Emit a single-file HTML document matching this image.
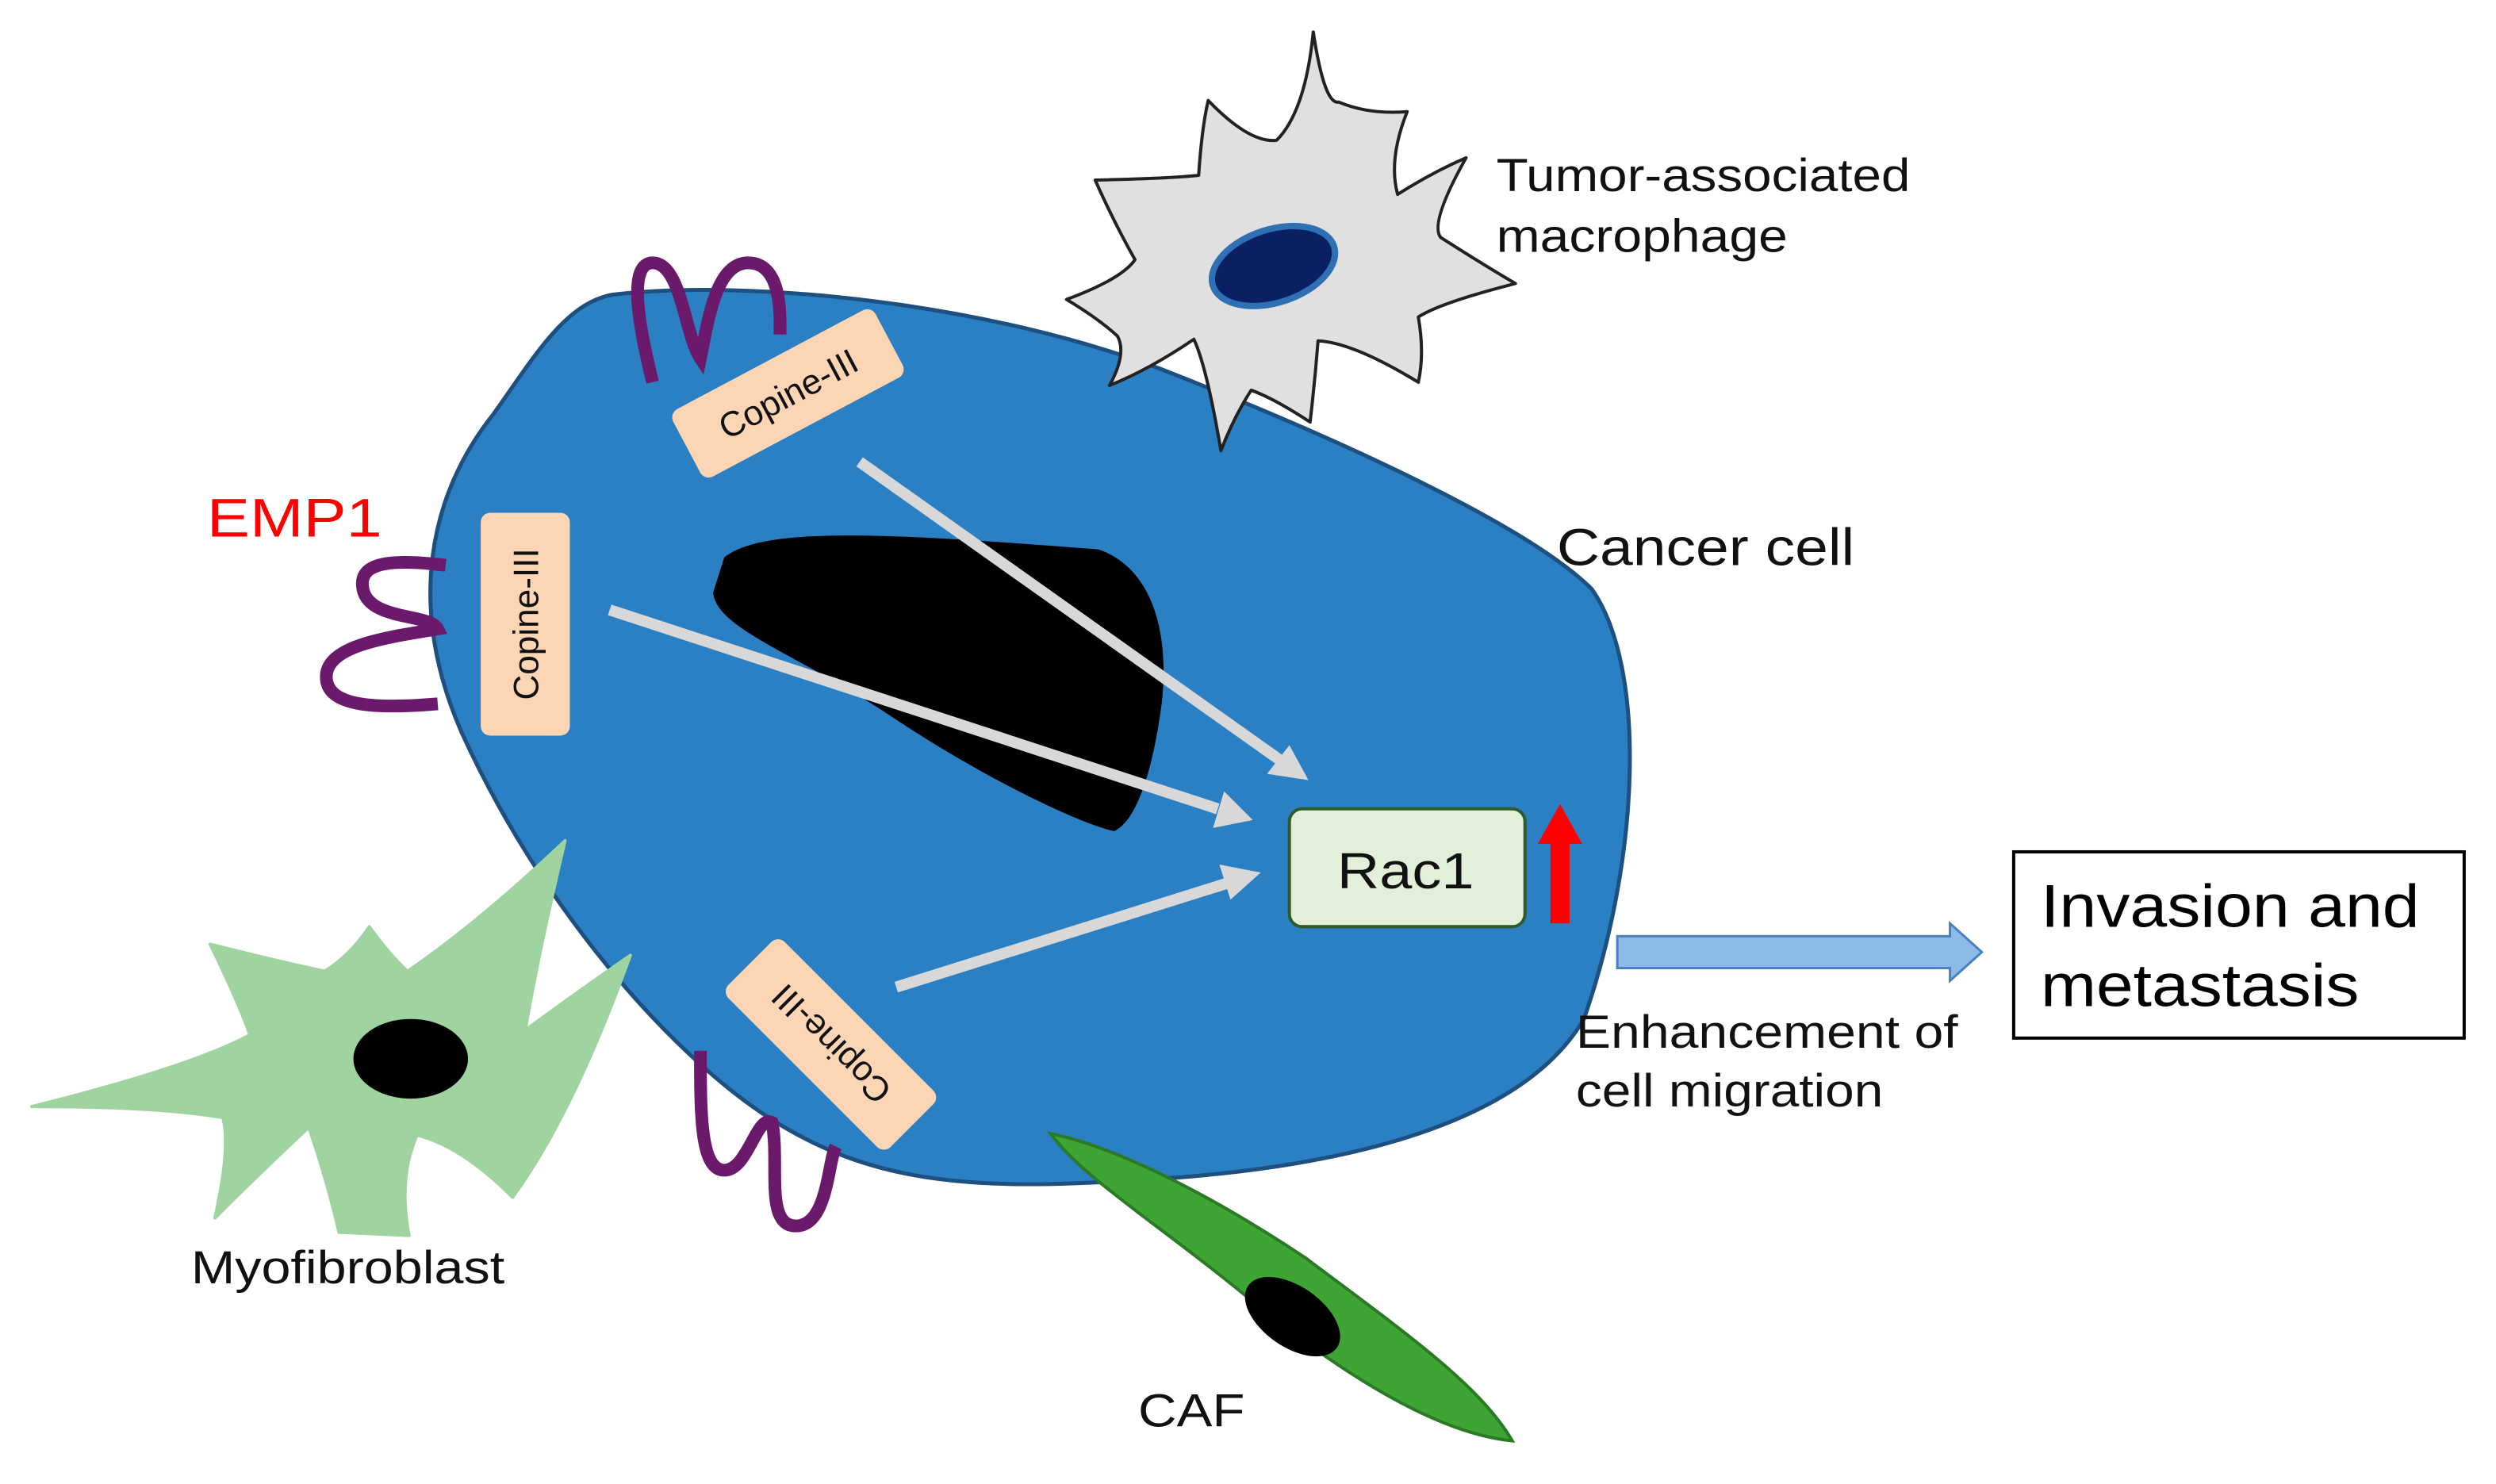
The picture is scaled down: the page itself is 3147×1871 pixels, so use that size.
<!DOCTYPE html>
<html><head><meta charset="utf-8"><style>
html,body{margin:0;padding:0;background:#fff;}
svg{display:block;}
text{font-family:"Liberation Sans",sans-serif;}
</style></head><body>
<svg width="3147" height="1871" viewBox="0 0 1568 932" xmlns="http://www.w3.org/2000/svg">
<rect width="1568" height="932" fill="#fff"/>
<!-- cancer cell -->
<path d="M385,185 C470,175 620,190 730,232 C840,275 960,330 1000,370 C1035,420 1030,540 995,640 C960,700 860,735 700,742 C600,748 540,740 480,700 C420,660 340,570 290,460 C255,380 270,310 310,260 C335,225 355,190 385,185 Z" fill="#2a80c2" stroke="#1d4f80" stroke-width="2.5"/>
<!-- macrophage -->
<path d="M825,20 Q832,66 841,64 Q860,72 884,70 Q872,100 878,122 Q900,108 921,99 Q898,140 905,149 Q930,165 952,178 Q905,190 891,199 Q895,222 891,240 Q850,215 828,214 Q826,240 823,265 Q800,250 786,245 Q775,262 767,283 Q758,230 750,213 Q722,232 697,242 Q708,222 702,211 Q690,200 670,188 Q705,175 713,163 Q700,140 688,113 Q735,112 753,110 Q755,80 759,63 Q785,90 802,88 Q820,70 825,20 Z" fill="#e0e0e0" stroke="#222" stroke-width="2" stroke-linejoin="round"/>
<ellipse cx="800" cy="167" rx="40" ry="23" transform="rotate(-18 800 167)" fill="#0b1f63" stroke="#2f6fb3" stroke-width="4"/>
<!-- nucleus -->
<path d="M455,350 C480,330 560,335 690,345 C720,355 735,390 730,440 C725,480 715,515 700,522 C680,518 620,490 560,450 C500,410 450,395 448,372 Z" fill="#000"/>
<!-- myofibroblast -->
<path d="M20,695 Q120,670 157,650 Q150,630 132,593 Q180,605 204,610 Q220,600 232,582 Q245,600 256,610 Q300,580 355,528 Q338,600 330,647 Q360,625 396,600 Q360,700 322,752 Q290,720 262,713 Q250,740 257,776 L213,774 Q205,740 194,708 Q160,740 135,765 Q145,720 140,702 Q100,695 20,695 Z" fill="#9fd39f" stroke="#9fd39f" stroke-width="2" stroke-linejoin="round"/>
<ellipse cx="258" cy="665" rx="36" ry="25" fill="#000"/>
<!-- CAF -->
<path d="M660,712 C700,720 760,750 820,790 C880,835 930,870 950,905 C900,900 840,860 790,820 C730,770 680,740 660,712 Z" fill="#3ea534" stroke="#2a7a25" stroke-width="2"/>
<ellipse cx="812" cy="827" rx="34" ry="19" transform="rotate(35 812 827)" fill="#000"/>
<!-- EMP1 coils -->
<g fill="none" stroke="#6b1a6b" stroke-width="8" stroke-linecap="butt">
<path d="M410,240 C400,200 395,165 410,165 C428,165 430,210 440,225 C445,200 450,165 470,165 C492,165 490,200 490,210"/>
<path d="M280,355 C240,350 225,355 228,370 C232,390 270,385 275,395 C245,400 205,405 205,425 C205,445 240,445 275,442"/>
<path d="M440,660 C440,700 440,735 455,735 C470,735 475,700 485,705 C490,730 480,770 500,770 C520,770 520,730 525,720"/>
</g>
<!-- Copine boxes -->
<g transform="translate(495,247) rotate(-28)"><rect x="-72" y="-24" width="144" height="48" rx="6" fill="#fcd5b5"/><text x="0" y="8" text-anchor="middle" font-size="22" fill="#111">Copine-III</text></g>
<g transform="translate(330,392) rotate(-90)"><rect x="-70" y="-28" width="140" height="56" rx="6" fill="#fcd5b5"/><text x="0" y="8" text-anchor="middle" font-size="22" fill="#111">Copine-III</text></g>
<g transform="translate(522,656) rotate(225)"><rect x="-72" y="-25" width="144" height="50" rx="6" fill="#fcd5b5"/><text x="0" y="8" text-anchor="middle" font-size="22" fill="#111">Copine-III</text></g>
<!-- gray arrows -->
<g stroke="#d8d8d8" stroke-width="7" fill="#d8d8d8">
<line x1="540" y1="290" x2="805" y2="478"/><polygon points="822,490 796,486 810,468" stroke="none"/>
<line x1="383" y1="383" x2="765" y2="508"/><polygon points="787,515 762,520 769,497" stroke="none"/>
<line x1="563" y1="620" x2="770" y2="555"/><polygon points="792,548 773,565 766,543" stroke="none"/>
</g>
<!-- Rac1 -->
<rect x="810" y="508" width="148" height="74" rx="8" fill="#e2f0d9" stroke="#2e5a2e" stroke-width="2"/>
<text x="840" y="558" font-size="32" fill="#111" textLength="86" lengthAdjust="spacingAndGlyphs">Rac1</text>
<polygon points="980,505 966,530 974,530 974,580 986,580 986,530 994,530" fill="#ff0000"/>
<!-- blue arrow -->
<polygon points="1016,588 1225,588 1225,580 1245,598 1225,616 1225,608 1016,608" fill="#8dbbe8" stroke="#4a7fc0" stroke-width="1.5"/>
<rect x="1265" y="535" width="283" height="117" fill="#fff" stroke="#000" stroke-width="2"/>
<text x="1282" y="582" font-size="38" fill="#000" textLength="238" lengthAdjust="spacingAndGlyphs">Invasion and</text>
<text x="1282" y="632" font-size="38" fill="#000" textLength="200" lengthAdjust="spacingAndGlyphs">metastasis</text>
<!-- labels -->
<text x="940" y="120" font-size="29" fill="#111" textLength="260" lengthAdjust="spacingAndGlyphs">Tumor-associated</text>
<text x="940" y="158" font-size="29" fill="#111" textLength="183" lengthAdjust="spacingAndGlyphs">macrophage</text>
<text x="978" y="355" font-size="33" fill="#111" textLength="187" lengthAdjust="spacingAndGlyphs">Cancer cell</text>
<text x="130" y="337" font-size="34" fill="#ff0000" textLength="110" lengthAdjust="spacingAndGlyphs">EMP1</text>
<text x="990" y="658" font-size="29" fill="#111" textLength="240" lengthAdjust="spacingAndGlyphs">Enhancement of</text>
<text x="990" y="695" font-size="29" fill="#111" textLength="193" lengthAdjust="spacingAndGlyphs">cell migration</text>
<text x="120" y="806" font-size="29" fill="#111" textLength="197" lengthAdjust="spacingAndGlyphs">Myofibroblast</text>
<text x="715" y="896" font-size="29" fill="#111" textLength="67" lengthAdjust="spacingAndGlyphs">CAF</text>
</svg>
</body></html>
